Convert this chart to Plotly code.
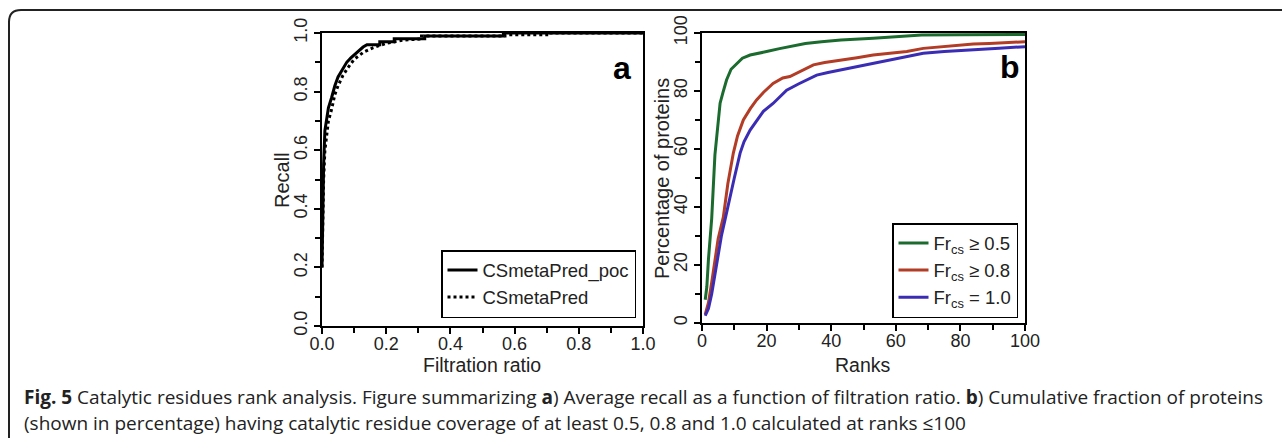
import plotly.graph_objects as go

W, H = 1282, 438

# ---- Panel a data (Recall vs Filtration ratio) ----
filt_poc = [0.0, 0.002, 0.005, 0.009, 0.015, 0.02, 0.03, 0.04, 0.05, 0.065, 0.077, 0.09, 0.105, 0.118, 0.128,
            0.14, 0.18, 0.18, 0.225, 0.225, 0.32, 0.32, 0.565, 0.565, 1.0]
recall_poc = [0.20, 0.38, 0.55, 0.667, 0.71, 0.745, 0.78, 0.82, 0.85, 0.88, 0.90, 0.915, 0.93, 0.94, 0.952,
              0.96, 0.96, 0.97, 0.97, 0.98, 0.98, 0.99, 0.99, 1.0, 1.0]

filt_meta = [0.0, 0.002, 0.005, 0.009, 0.015, 0.02, 0.03, 0.04, 0.05, 0.065, 0.08, 0.1, 0.13, 0.16, 0.2,
             0.25, 0.31, 0.31, 0.57, 0.57, 0.70, 0.70, 1.0]
recall_meta = [0.20, 0.35, 0.50, 0.60, 0.66, 0.70, 0.74, 0.79, 0.82, 0.855, 0.88, 0.91, 0.935, 0.95, 0.965,
               0.975, 0.98, 0.99, 0.99, 0.994, 0.994, 1.0, 1.0]

# ---- Panel b data (Percentage of proteins vs Ranks) ----
ranks_g = [1, 1.5, 2, 2.5, 3, 4, 5, 5.6, 6.5, 7.6, 9, 10.7, 12.5, 14.9, 17, 20, 24, 27, 32, 37, 43, 53, 60, 68, 80, 90, 100]
pct_g = [8, 12.5, 22, 30, 36, 58, 70, 75.8, 79.5, 83.8, 87.5, 89.5, 91.3, 92.4, 93.0, 93.6, 94.6, 95.3, 96.4, 97.0, 97.6, 98.2, 98.8, 99.3, 99.4, 99.5, 99.5]

ranks_r = [1, 2, 3, 4, 5, 6.6, 8, 9.7, 11, 12.8, 15, 16.9, 19, 22, 25, 27.2, 31, 34.5, 38, 42.7, 48, 53, 58, 63.4, 68.5, 74, 78.9, 84, 89, 95, 100]
pct_r = [3, 7, 14, 22, 29, 36.5, 48, 58.6, 64.5, 70, 74, 76.9, 79.5, 82.6, 84.5, 85, 87, 89, 89.8, 90.7, 91.5, 92.4, 93, 93.6, 94.7, 95.3, 95.9, 96.2, 96.4, 96.7, 97]

ranks_bl = [1, 2, 3, 4, 5, 6, 7.1, 8.5, 10, 11.8, 13, 14.9, 17, 19, 22, 24, 26.2, 30, 35.5, 39, 42.7, 48, 53, 58, 63, 68.5, 75, 84, 92, 100]
pct_bl = [2.5, 5, 10, 17, 24, 30, 35.5, 42, 50, 58.6, 62.5, 66.5, 70, 73, 75.7, 78, 80.3, 82.5, 85.5, 86.4, 87.2, 88.4, 89.6, 90.7, 91.8, 93, 93.6, 94.1, 94.7, 95.3]

legend_a = ["CSmetaPred_poc", "CSmetaPred"]
legend_b = ["Fr<sub>cs</sub> \u2265 0.5", "Fr<sub>cs</sub> \u2265 0.8", "Fr<sub>cs</sub> = 1.0"]

ticks_a = [0.0, 0.2, 0.4, 0.6, 0.8, 1.0]
ticktext_a = ["0.0", "0.2", "0.4", "0.6", "0.8", "1.0"]
ticks_b = [0, 20, 40, 60, 80, 100]

caption_line1 = ("<b>Fig. 5</b> Catalytic residues rank analysis. Figure summarizing <b>a</b>) Average recall as a "
                 "function of filtration ratio. <b>b</b>) Cumulative fraction of proteins")
caption_line2 = ("(shown in percentage) having catalytic residue coverage of at least 0.5, 0.8 and 1.0 "
                 "calculated at ranks \u2264100")

GREEN, RED, BLUE = "#1b6b2f", "#b23c26", "#3b2db3"
FONT = "Liberation Sans, Arial, sans-serif"

fig = go.Figure()

fig.add_trace(go.Scatter(x=filt_poc, y=recall_poc, mode="lines", name=legend_a[0],
                         line=dict(color="black", width=3), xaxis="x", yaxis="y", legend="legend"))
fig.add_trace(go.Scatter(x=filt_meta, y=recall_meta, mode="lines", name=legend_a[1],
                         line=dict(color="black", width=3, dash="dot"), xaxis="x", yaxis="y", legend="legend"))

fig.add_trace(go.Scatter(x=ranks_g, y=pct_g, mode="lines", name=legend_b[0],
                         line=dict(color=GREEN, width=3), xaxis="x2", yaxis="y2", legend="legend2"))
fig.add_trace(go.Scatter(x=ranks_r, y=pct_r, mode="lines", name=legend_b[1],
                         line=dict(color=RED, width=3), xaxis="x2", yaxis="y2", legend="legend2"))
fig.add_trace(go.Scatter(x=ranks_bl, y=pct_bl, mode="lines", name=legend_b[2],
                         line=dict(color=BLUE, width=3), xaxis="x2", yaxis="y2", legend="legend2"))


def px_x(p):
    return p / W


def px_y(p):
    return 1 - p / H


def axis_common(minor_dtick, standoff=0):
    return dict(showline=True, linecolor="black", linewidth=1.5, mirror=True, ticks="outside",
                ticklen=6, tickwidth=1.5, tickcolor="black", showgrid=False, zeroline=False,
                automargin=False, tickfont=dict(family=FONT, size=18, color="#222"),
                ticklabelstandoff=standoff,
                minor=dict(ticks="outside", ticklen=5, tickwidth=1.5, tickcolor="black",
                           showgrid=False, dtick=minor_dtick))


fig.update_layout(
    width=W, height=H, margin=dict(l=0, r=0, t=0, b=0, autoexpand=False),
    paper_bgcolor="white", plot_bgcolor="white",
    font=dict(family=FONT, color="#222"),
    xaxis=dict(domain=[px_x(322), px_x(643)], range=[0, 1], tickvals=ticks_a, ticktext=ticktext_a,
               anchor="y", **axis_common(0.1, -5)),
    yaxis=dict(domain=[px_y(326), px_y(33)], range=[0, 1], tickvals=ticks_a, ticktext=ticktext_a,
               tickangle=-90, anchor="x", **axis_common(0.1)),
    xaxis2=dict(domain=[px_x(702), px_x(1025)], range=[0, 100], tickvals=ticks_b, anchor="y2",
                **axis_common(10, -5)),
    yaxis2=dict(domain=[px_y(323), px_y(33)], range=[0, 100], tickvals=ticks_b, tickangle=-90,
                anchor="x2", **axis_common(10)),
    legend=dict(x=px_x(636), y=px_y(318), xanchor="right", yanchor="bottom",
                bgcolor="white", bordercolor="black", borderwidth=1.5,
                font=dict(family=FONT, size=18.5, color="#222"), tracegroupgap=0, itemwidth=30),
    legend2=dict(x=px_x(1018), y=px_y(318), xanchor="right", yanchor="bottom",
                 bgcolor="white", bordercolor="black", borderwidth=1.5,
                 font=dict(family=FONT, size=18.5, color="#222"), tracegroupgap=0, itemwidth=30),
    showlegend=True,
)


def label(text, x, y, size, angle=0, xanchor="center", color="#222", family=FONT):
    return dict(text=text, x=px_x(x), y=px_y(y), xref="paper", yref="paper", showarrow=False,
                textangle=angle, xanchor=xanchor, yanchor="middle", align="left",
                font=dict(family=family, size=size, color=color))


ann = [
    label("Recall", 282, 180, 20, angle=-90),
    label("Filtration ratio", 482, 365, 19.5),
    label("Percentage of proteins", 662, 179, 20, angle=-90),
    label("Ranks", 863, 365, 19.5),
    label("<b>a</b>", 622, 68, 32, color="black"),
    label("<b>b</b>", 1010, 67, 32, color="black"),
    label(caption_line1, 22, 397, 19, xanchor="left", family="Open Sans, sans-serif"),
    label(caption_line2, 22, 423, 19, xanchor="left", family="Open Sans, sans-serif"),
]
fig.update_layout(annotations=ann)

# outer rounded frame (open on right and bottom)
r = 12
path = (f"M {px_x(9)},{px_y(440)} L {px_x(9)},{px_y(10 + r)} "
        f"Q {px_x(9)},{px_y(10)} {px_x(9 + r)},{px_y(10)} L {px_x(1290)},{px_y(10)}")
fig.add_shape(type="path", path=path, xref="paper", yref="paper", line=dict(color="#222", width=2))

fig.write_html("out.html", config={"displayModeBar": False},
               post_script="document.body.style.margin='0px';")
